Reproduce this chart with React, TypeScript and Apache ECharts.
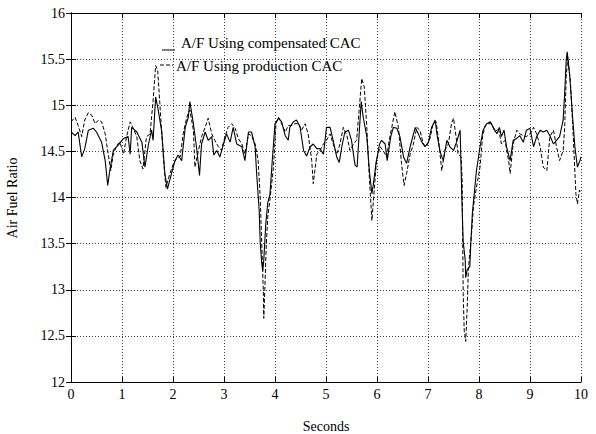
import React, { useEffect, useRef } from "react";
import * as echarts from "echarts";

const compTime = [0, 0.08, 0.14, 0.21, 0.27, 0.34, 0.44, 0.5, 0.6, 0.67, 0.72, 0.76, 0.83, 0.93, 1.03, 1.12, 1.16, 1.19, 1.29, 1.39, 1.45, 1.52, 1.58, 1.61, 1.66, 1.71, 1.78, 1.84, 1.89, 1.97, 2.04, 2.1, 2.17, 2.24, 2.3, 2.33, 2.4, 2.46, 2.52, 2.56, 2.63, 2.69, 2.76, 2.8, 2.86, 2.92, 2.99, 3.05, 3.12, 3.18, 3.25, 3.35, 3.41, 3.48, 3.54, 3.61, 3.64, 3.69, 3.71, 3.74, 3.76, 3.78, 3.82, 3.86, 3.9, 3.94, 4.0, 4.07, 4.13, 4.2, 4.26, 4.29, 4.36, 4.42, 4.49, 4.56, 4.62, 4.69, 4.75, 4.82, 4.88, 4.95, 5.01, 5.08, 5.14, 5.21, 5.26, 5.31, 5.37, 5.44, 5.5, 5.57, 5.61, 5.65, 5.69, 5.73, 5.8, 5.85, 5.9, 5.93, 5.98, 6.05, 6.09, 6.16, 6.2, 6.27, 6.32, 6.39, 6.45, 6.52, 6.58, 6.65, 6.75, 6.81, 6.88, 6.94, 7.01, 7.07, 7.14, 7.18, 7.24, 7.3, 7.37, 7.43, 7.5, 7.56, 7.63, 7.67, 7.69, 7.73, 7.74, 7.77, 7.82, 7.84, 7.87, 7.92, 7.95, 8.02, 8.08, 8.15, 8.22, 8.28, 8.35, 8.4, 8.44, 8.49, 8.54, 8.61, 8.67, 8.74, 8.8, 8.87, 8.93, 9.0, 9.07, 9.13, 9.2, 9.26, 9.33, 9.39, 9.46, 9.52, 9.58, 9.65, 9.68, 9.71, 9.73, 9.78, 9.84, 9.88, 9.93, 9.98, 10.0];
const compAfr = [14.71, 14.67, 14.71, 14.44, 14.53, 14.73, 14.75, 14.71, 14.6, 14.4, 14.13, 14.29, 14.51, 14.57, 14.64, 14.66, 14.47, 14.76, 14.71, 14.6, 14.33, 14.58, 14.73, 14.62, 15.09, 14.95, 14.71, 14.26, 14.09, 14.26, 14.4, 14.46, 14.4, 14.76, 14.87, 15.04, 14.8, 14.55, 14.24, 14.58, 14.71, 14.62, 14.66, 14.46, 14.51, 14.44, 14.58, 14.69, 14.6, 14.76, 14.58, 14.55, 14.4, 14.71, 14.71, 14.55, 14.26, 13.86, 13.51, 13.29, 13.2, 13.32, 13.72, 13.95, 14.03, 14.35, 14.8, 14.86, 14.82, 14.67, 14.62, 14.76, 14.82, 14.84, 14.77, 14.51, 14.45, 14.55, 14.58, 14.53, 14.53, 14.47, 14.76, 14.76, 14.62, 14.44, 14.38, 14.55, 14.71, 14.73, 14.62, 14.35, 14.33, 14.69, 15.04, 14.87, 14.66, 14.29, 14.04, 14.15, 14.37, 14.58, 14.62, 14.58, 14.4, 14.66, 14.76, 14.75, 14.66, 14.44, 14.37, 14.55, 14.76, 14.69, 14.6, 14.55, 14.6, 14.76, 14.84, 14.67, 14.49, 14.4, 14.62, 14.55, 14.51, 14.6, 14.73, 13.86, 13.52, 13.32, 13.13, 13.22, 13.25, 13.51, 13.83, 14.12, 14.29, 14.55, 14.73, 14.8, 14.82, 14.76, 14.69, 14.76, 14.66, 14.73, 14.55, 14.4, 14.62, 14.64, 14.67, 14.6, 14.73, 14.75, 14.55, 14.66, 14.73, 14.71, 14.73, 14.67, 14.58, 14.62, 14.66, 14.84, 15.13, 15.49, 15.58, 15.31, 14.84, 14.55, 14.33, 14.4, 14.44];

const prodTime = [0, 0.08, 0.14, 0.21, 0.27, 0.34, 0.41, 0.47, 0.54, 0.6, 0.67, 0.73, 0.78, 0.83, 0.9, 0.96, 1.03, 1.09, 1.16, 1.22, 1.29, 1.35, 1.41, 1.48, 1.55, 1.61, 1.66, 1.7, 1.75, 1.81, 1.86, 1.94, 2.01, 2.07, 2.14, 2.2, 2.27, 2.33, 2.4, 2.43, 2.5, 2.56, 2.63, 2.69, 2.76, 2.82, 2.89, 2.95, 3.02, 3.08, 3.15, 3.22, 3.28, 3.35, 3.41, 3.48, 3.54, 3.61, 3.67, 3.71, 3.74, 3.77, 3.78, 3.8, 3.83, 3.86, 3.9, 3.97, 4.02, 4.07, 4.13, 4.2, 4.26, 4.33, 4.39, 4.46, 4.52, 4.59, 4.65, 4.72, 4.75, 4.82, 4.88, 4.95, 5.01, 5.08, 5.14, 5.21, 5.27, 5.34, 5.41, 5.47, 5.54, 5.6, 5.65, 5.7, 5.75, 5.8, 5.85, 5.9, 5.94, 5.99, 6.06, 6.12, 6.19, 6.24, 6.29, 6.35, 6.42, 6.48, 6.53, 6.58, 6.65, 6.71, 6.78, 6.84, 6.91, 6.97, 7.04, 7.1, 7.16, 7.2, 7.27, 7.33, 7.4, 7.46, 7.5, 7.55, 7.59, 7.65, 7.67, 7.69, 7.71, 7.74, 7.77, 7.79, 7.82, 7.86, 7.89, 7.95, 8.02, 8.07, 8.12, 8.18, 8.25, 8.31, 8.38, 8.44, 8.51, 8.58, 8.61, 8.67, 8.74, 8.8, 8.87, 8.93, 9.0, 9.07, 9.13, 9.2, 9.26, 9.33, 9.39, 9.46, 9.52, 9.58, 9.65, 9.68, 9.71, 9.74, 9.79, 9.84, 9.9, 9.93, 9.97, 10.0];
const prodAfr = [14.82, 14.87, 14.78, 14.66, 14.84, 14.92, 14.89, 14.8, 14.84, 14.82, 14.69, 14.47, 14.29, 14.47, 14.57, 14.6, 14.47, 14.66, 14.82, 14.75, 14.66, 14.4, 14.31, 14.66, 14.69, 15.05, 15.43, 15.38, 14.95, 14.44, 14.11, 14.26, 14.37, 14.42, 14.44, 14.69, 14.87, 14.95, 14.73, 14.33, 14.51, 14.66, 14.76, 14.86, 14.69, 14.62, 14.55, 14.51, 14.66, 14.76, 14.8, 14.75, 14.64, 14.58, 14.47, 14.69, 14.67, 14.58, 14.4, 14.0, 13.5, 13.0, 12.69, 13.0, 13.5, 13.8, 13.97, 14.33, 14.8, 14.87, 14.8, 14.71, 14.78, 14.78, 14.8, 14.8, 14.73, 14.8, 14.69, 14.4, 14.15, 14.47, 14.51, 14.58, 14.62, 14.69, 14.58, 14.47, 14.57, 14.76, 14.67, 14.51, 14.58, 14.62, 14.95, 15.29, 15.2, 14.76, 14.22, 13.75, 14.04, 14.4, 14.55, 14.51, 14.44, 14.62, 14.76, 14.93, 14.76, 14.37, 14.13, 14.26, 14.47, 14.57, 14.76, 14.73, 14.58, 14.55, 14.64, 14.8, 14.82, 14.66, 14.29, 14.51, 14.58, 14.8, 14.86, 14.66, 14.47, 14.44, 14.19, 12.96, 12.56, 12.44, 12.82, 13.21, 13.4, 13.65, 13.9, 14.11, 14.33, 14.66, 14.78, 14.8, 14.8, 14.71, 14.75, 14.58, 14.62, 14.4, 14.26, 14.58, 14.73, 14.69, 14.67, 14.66, 14.69, 14.76, 14.69, 14.55, 14.33, 14.29, 14.66, 14.73, 14.55, 14.4, 14.51, 14.76, 15.31, 15.52, 15.27, 14.76, 14.04, 13.93, 14.08, 14.04];

const xTicks = [0, 1, 2, 3, 4, 5, 6, 7, 8, 9, 10];
const yTicks = [12, 12.5, 13, 13.5, 14, 14.5, 15, 15.5, 16];
const seriesNames = ["A/F Using compensated CAC", "A/F Using production CAC"];
const xTitle = "Seconds";
const yTitle = "Air Fuel Ratio";

const FONT = "Liberation Serif";

export default function App() {
  const ref = useRef<HTMLDivElement>(null);
  useEffect(() => {
    if (!ref.current) return;
    const chart = echarts.init(ref.current, undefined, { renderer: "svg" });
    const comp = compTime.map((t, i) => [t, compAfr[i]]);
    const prod = prodTime.map((t, i) => [t, prodAfr[i]]);
    const gridLine = { show: true, lineStyle: { color: "#444", type: [1, 2] as any, width: 1 } };
    const axisLineStyle = { show: true, lineStyle: { color: "#000", width: 1 } };
    const tickIn = { show: true, inside: true, length: 5, lineStyle: { color: "#000" } };
    const labelStyle = { color: "#000", fontFamily: FONT, fontSize: 14 };
    chart.setOption({
      animation: false,
      backgroundColor: "#fff",
      grid: { left: 71, right: 15, top: 13, bottom: 52, containLabel: false },
      xAxis: [
        {
          type: "value", min: xTicks[0], max: xTicks[xTicks.length - 1], interval: 1,
          axisLine: axisLineStyle, axisTick: tickIn, splitLine: gridLine,
          axisLabel: { ...labelStyle, margin: 5 },
        },
        {
          type: "value", position: "top", min: 0, max: 10, interval: 1,
          axisLine: axisLineStyle, axisTick: tickIn, splitLine: { show: false },
          axisLabel: { show: false },
        },
      ],
      yAxis: [
        {
          type: "value", min: yTicks[0], max: yTicks[yTicks.length - 1], interval: 0.5,
          axisLine: axisLineStyle, axisTick: tickIn, splitLine: gridLine,
          axisLabel: { ...labelStyle, margin: 6 },
        },
        {
          type: "value", position: "right", min: 12, max: 16, interval: 0.5,
          axisLine: axisLineStyle, axisTick: tickIn, splitLine: { show: false },
          axisLabel: { show: false },
        },
      ],
      series: [
        {
          name: seriesNames[0], type: "line", data: comp, showSymbol: false, symbol: "none",
          lineStyle: { color: "#000", width: 1.1 }, z: 3,
        },
        {
          name: seriesNames[1], type: "line", data: prod, showSymbol: false, symbol: "none",
          lineStyle: { color: "#000", width: 1, type: [4, 2] as any }, z: 2,
        },
      ],
      graphic: [
        { type: "line", shape: { x1: 162, y1: 50, x2: 175, y2: 50 }, style: { stroke: "#000", lineWidth: 1 } },
        { type: "text", x: 181, y: 43, style: { text: seriesNames[0], fill: "#000", font: `15px "${FONT}"`, align: "left", verticalAlign: "middle" } },
        { type: "line", shape: { x1: 160, y1: 65, x2: 173, y2: 65 }, style: { stroke: "#000", lineWidth: 1, lineDash: [4, 2] } },
        { type: "text", x: 176, y: 65.7, style: { text: seriesNames[1], fill: "#000", font: `15px "${FONT}"`, align: "left", verticalAlign: "middle" } },
        { type: "text", x: 326, y: 426, style: { text: xTitle, fill: "#000", font: `14px "${FONT}"`, align: "center", verticalAlign: "middle" } },
        { type: "text", x: 12, y: 198, rotation: Math.PI / 2, style: { text: yTitle, fill: "#000", font: `14px "${FONT}"`, align: "center", verticalAlign: "middle" } },
      ],
    });
    return () => chart.dispose();
  }, []);
  return <div ref={ref} style={{ width: 596, height: 434, position: "absolute", left: 0, top: 0 }} />;
}
